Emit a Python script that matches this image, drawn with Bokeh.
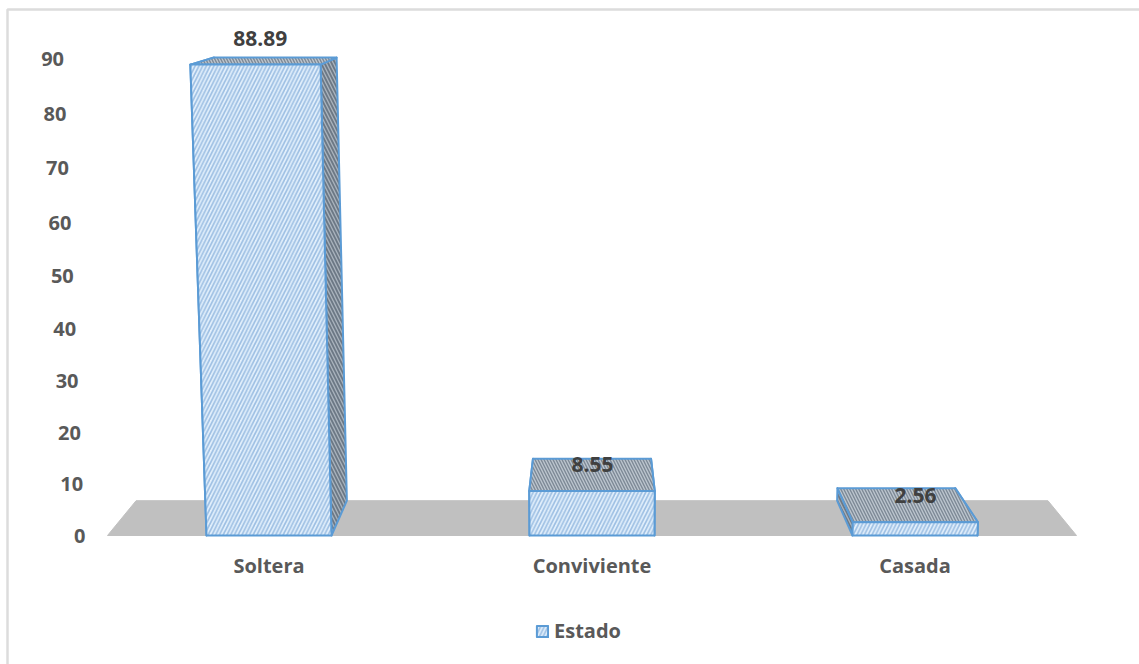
from bokeh.embed import file_html
from bokeh.models import ColumnDataSource, Legend, LegendItem, Range1d
from bokeh.plotting import figure
from bokeh.resources import INLINE
from bokeh.core.properties import value
import numpy as np

# Marital status shares
categories = ["Soltera", "Conviviente", "Casada"]
shares = [88.89, 8.55, 2.56]
series_name = "Estado"
tick_values = [0, 10, 20, 30, 40, 50, 60, 70, 80, 90]

# Height above the floor of each axis tick; spacing widens slightly with height
# because the chart is drawn in perspective.
tick_heights = [0, 52, 103, 155, 207, 260, 313, 368, 422, 477]

WIDTH, HEIGHT = 1139, 664
LEFT, BASE = 107, 535
PLOT_W = 969
SLOT = PLOT_W / len(categories)
HALF_BAR = 62.5
CX = PLOT_W / 2
VANISH_H = 590
DEPTH = 0.059
FLARE = 0.042 / 472
FONT = "Open Sans"
AXIS_TEXT = "#595959"


def height_of(v):
    return float(np.interp(v, tick_values, tick_heights))


def front(x, h):
    """Project a point of the front plane: verticals lean out as they rise."""
    return CX + (x - CX) * (1 + FLARE * h), h


def back(x, h):
    """Push a front-plane point towards the vanishing point."""
    fx, fh = front(x, h)
    return fx + (CX - fx) * DEPTH, fh + (VANISH_H - fh) * DEPTH


def faces(center, h):
    l, r = center - HALF_BAR, center + HALF_BAR
    fl0, fr0 = front(l, 0), front(r, 0)
    fl1, fr1 = front(l, h), front(r, h)
    bl0, br0 = back(l, 0), back(r, 0)
    bl1, br1 = back(l, h), back(r, h)
    return {
        "front": [fl0, fr0, fr1, fl1],
        "top": [fl1, fr1, br1, bl1],
        "left": [fl0, fl1, bl1, bl0],
        "right": [fr0, fr1, br1, br0],
    }


def collect(face_names):
    xs, ys = [], []
    for i, v in enumerate(shares):
        f = faces((i + 0.5) * SLOT, height_of(v))
        for name in face_names:
            xs.append([pt[0] for pt in f[name]])
            ys.append([pt[1] for pt in f[name]])
    return ColumnDataSource(dict(xs=xs, ys=ys))


# The frame spans the whole canvas, so one plot unit is one pixel.
p = figure(width=WIDTH, height=HEIGHT, output_backend="svg", toolbar_location=None,
           x_range=Range1d(-LEFT, WIDTH - LEFT), y_range=Range1d(BASE - HEIGHT, BASE),
           x_axis_type=None, y_axis_type=None, min_border=0)
p.outline_line_color = None
p.background_fill_color = "white"
p.border_fill_color = "white"
p.grid.visible = False

# Chart area edge along the top and left
p.line([7 - LEFT, 7 - LEFT, WIDTH - LEFT], [BASE - HEIGHT, BASE - 9, BASE - 9],
       line_color="#dcdcdc", line_width=2.5)

# Floor
fl = [front(0, 0), front(PLOT_W, 0), back(PLOT_W, 0), back(0, 0)]
p.patch([q[0] for q in fl], [q[1] for q in fl], fill_color="#c0c0c0", line_color="#c0c0c0")

# Bars, painted back to front
edge = dict(line_color="#5b9bd5", line_width=2, line_join="round")
p.patches("xs", "ys", source=collect(["left", "right"]), fill_color="#a9b3bd",
          hatch_pattern="left_diagonal_line", hatch_color="#6c7885", hatch_scale=7,
          hatch_weight=1.8, **edge)
p.patches("xs", "ys", source=collect(["top"]), fill_color="#bcc5ce",
          hatch_pattern="left_diagonal_line", hatch_color="#7d8996", hatch_scale=6,
          hatch_weight=1.4, **edge)
front_faces = p.patches("xs", "ys", source=collect(["front"]), fill_color="#e3f0fc",
                        hatch_pattern="right_diagonal_line", hatch_color="#9dbfe3",
                        hatch_scale=7.5, hatch_weight=1.7, **edge)

# Value labels sit just above each bar's top, drifting with the perspective
label_heights = [height_of(v) for v in shares]
p.text([front((i + 0.5) * SLOT, h)[0] + h / 100 for i, h in enumerate(label_heights)],
       [h + 26.5 for h in label_heights],
       text=[f"{v:.2f}" for v in shares],
       text_font=value(FONT), text_font_style="bold", text_font_size="21px",
       text_color="#404040", text_align="center", text_baseline="middle")

# Value axis labels follow the lean of the front plane
y_anchor = [front(-22, h)[0] for h in tick_heights]
p.text(y_anchor, tick_heights, text=[str(v) for v in tick_values],
       text_font=value(FONT), text_font_style="bold", text_font_size="20px",
       text_color=AXIS_TEXT, text_align="right", text_baseline="middle")

# Category labels
p.text([(i + 0.5) * SLOT for i in range(len(categories))], [-30] * len(categories),
       text=categories, text_font=value(FONT), text_font_style="bold",
       text_font_size="20px", text_color=AXIS_TEXT, text_align="center",
       text_baseline="middle")

# Legend
legend = Legend(items=[LegendItem(label=series_name, renderers=[front_faces], index=0)],
                location=(535, 20), orientation="horizontal",
                border_line_color=None, background_fill_alpha=0,
                padding=0, margin=0, glyph_width=14, glyph_height=14, label_standoff=5,
                label_text_font=FONT, label_text_font_style="bold",
                label_text_font_size="20px", label_text_color=AXIS_TEXT)
p.add_layout(legend, "center")

open("out.html", "w").write(file_html(p, INLINE))
